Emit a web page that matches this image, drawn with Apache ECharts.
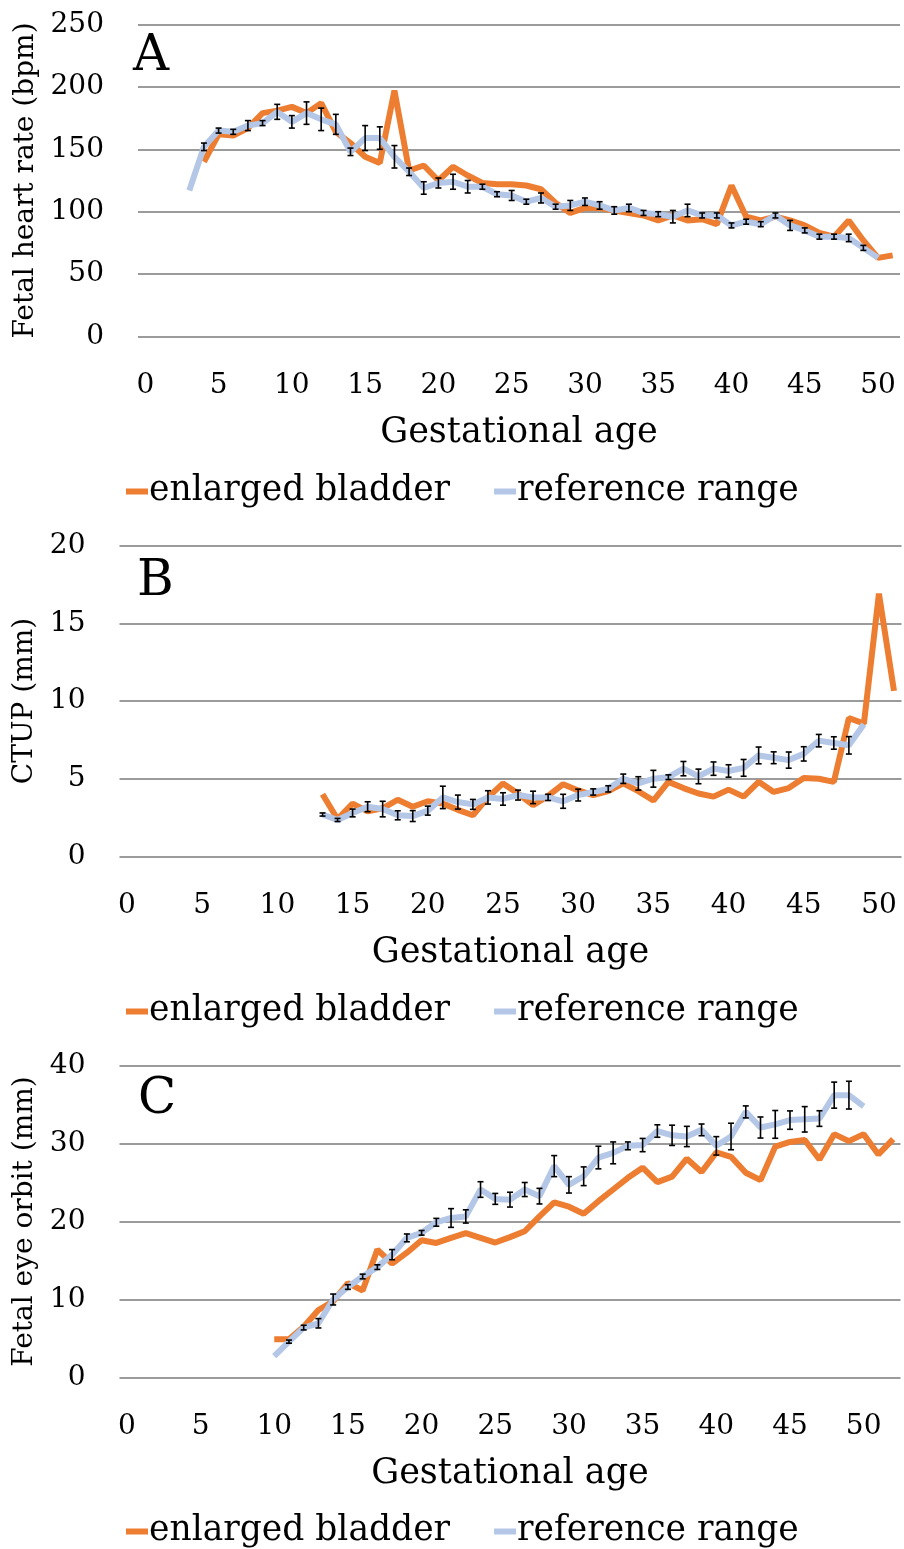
<!DOCTYPE html>
<html>
<head>
<meta charset="utf-8">
<script src="https://cdn.jsdelivr.net/npm/echarts@6/dist/echarts.min.js"></script>
<style>
  html, body { margin: 0; padding: 0; background: #fff; }
  #chart { width: 904px; height: 1549px; }
</style>
</head>
<body>
<div id="chart"></div>
<script>
// gestational age categories (0..51 for A and B, 0..52 for C)
var agesAB = [];
for (var i = 0; i <= 51; i++) agesAB.push(String(i));
var agesC = [];
for (var i = 0; i <= 52; i++) agesC.push(String(i));

// A: fetal heart rate (bpm)
var hrBladderStart = 4;
var hrBladder = [140, 162, 161, 167, 179, 181, 184, 179, 187, 164, 155, 144, 139, 197, 133, 137,
  125, 136, 129, 123, 122, 122, 121, 118, 107, 99, 103, 103, 101, 99, 97, 93, 97, 93, 94, 90,
  121, 96, 93, 96, 93, 89, 83, 80, 93, 77, 63, 65];
var hrRefStart = 3;
var hrRef = [117, 152, 165, 164, 169, 171, 180, 172, 179, 174, 170, 148, 159, 159, 144, 132,
  119, 123, 124, 120, 120, 114, 113, 108, 111, 104, 105, 108, 105, 101, 103, 99, 98, 96, 101,
  97, 97, 89, 92, 90, 97, 89, 85, 80, 80, 79, 71, 63];
var hrRefErr = [0, 3, 2, 2, 4, 2, 6, 5, 9, 9, 8, 3, 10, 9, 9, 3,
  5, 4, 6, 5, 2, 2, 4, 2, 4, 2, 4, 3, 3, 3, 3, 2, 2, 5, 5,
  2, 2, 2, 2, 2, 2, 4, 2, 2, 2, 3, 2, 0];

// B: CTUP (mm)
var ctupBladderStart = 13;
var ctupBladder = [4.0, 2.4, 3.4, 2.9, 3.1, 3.65, 3.2, 3.55, 3.4, 3.0, 2.65, 3.8, 4.7, 4.05, 3.3,
  3.9, 4.65, 4.25, 3.95, 4.2, 4.7, 4.2, 3.6, 4.8, 4.4, 4.05, 3.85, 4.3, 3.85, 4.8, 4.15, 4.4,
  5.05, 5.0, 4.8, 8.9, 8.55, 16.9, 10.65];
var ctupRefStart = 13;
var ctupRef = [2.7, 2.35, 2.8, 3.2, 3.05, 2.65, 2.6, 2.95, 3.8, 3.5, 3.35, 3.8, 3.7, 3.95, 3.8,
  3.8, 3.55, 3.95, 4.15, 4.35, 5.0, 4.7, 5.0, 5.1, 5.65, 5.15, 5.65, 5.5, 5.7, 6.5, 6.35, 6.2,
  6.6, 7.45, 7.3, 7.15, 8.5];
var ctupRefErr = [0.1, 0.1, 0.25, 0.32, 0.5, 0.29, 0.35, 0.29, 0.72, 0.45, 0.32, 0.43, 0.4, 0.32,
  0.4, 0.2, 0.45, 0.38, 0.2, 0.2, 0.3, 0.43, 0.54, 0.15, 0.46, 0.47, 0.43, 0.4, 0.54, 0.54,
  0.38, 0.52, 0.46, 0.4, 0.4, 0.56, 0];

// C: fetal eye orbit (mm)
var orbitBladderStart = 10;
var orbitBladder = [4.9, 4.9, 6.5, 8.65, 9.75, 12.1, 11.15, 16.4, 14.6, 16.0, 17.6, 17.25, 17.9,
  18.5, 17.9, 17.3, 18.0, 18.75, 20.65, 22.45, 21.9, 21.0, 22.6, 24.1, 25.6, 26.9, 25.05, 25.75,
  28.05, 26.35, 28.85, 28.3, 26.25, 25.3, 29.6, 30.2, 30.45, 27.95, 31.2, 30.3, 31.2, 28.6, 30.55];
var orbitRefStart = 10;
var orbitRef = [2.75, 4.6, 6.4, 6.95, 10.0, 11.6, 12.95, 14.15, 15.75, 17.9, 18.55, 19.9, 20.45,
  20.65, 24.1, 22.9, 22.8, 24.1, 23.25, 27.1, 24.7, 25.8, 28.2, 28.8, 29.7, 29.8, 31.6, 31.05,
  30.9, 31.75, 29.7, 30.9, 34.05, 32.05, 32.45, 33.0, 33.1, 33.2, 36.2, 36.2, 34.75];
var orbitRefErr = [0, 0.2, 0.3, 0.6, 0.7, 0.3, 0.3, 0.3, 0.65, 0.5, 0.3, 0.5, 1.2, 0.85, 1.0,
  0.7, 0.95, 0.9, 1.0, 1.35, 1.05, 1.2, 1.45, 1.4, 0.5, 0.85, 0.8, 1.3, 1.3, 0.75, 1.18, 1.7,
  0.77, 1.35, 1.78, 1.18, 1.63, 1.0, 1.67, 1.78, 0];

var FONT = 'DejaVu Serif';
var ORANGE = '#ED7D31';
var BLUE = '#B4C7E7';

function pad(start, vals, n) {
  var out = [];
  for (var i = 0; i < n; i++) {
    var k = i - start;
    out.push(k >= 0 && k < vals.length ? vals[k] : null);
  }
  return out;
}
function errData(start, vals, errs) {
  var out = [];
  vals.forEach(function (v, k) {
    if (errs[k] > 0) out.push([start + k, v - errs[k], v + errs[k]]);
  });
  return out;
}
function renderErr(params, api) {
  var lo = api.coord([api.value(0), api.value(1)]);
  var hi = api.coord([api.value(0), api.value(2)]);
  var w = 3;
  var st = { stroke: '#000', lineWidth: 1.6 };
  return {
    type: 'group',
    children: [
      { type: 'line', shape: { x1: lo[0], y1: lo[1], x2: hi[0], y2: hi[1] }, style: st },
      { type: 'line', shape: { x1: lo[0] - w, y1: lo[1], x2: lo[0] + w, y2: lo[1] }, style: st },
      { type: 'line', shape: { x1: hi[0] - w, y1: hi[1], x2: hi[0] + w, y2: hi[1] }, style: st }
    ]
  };
}

var panels = [
  { letter: 'A', letterPos: [128, 27], yName: 'Fetal heart rate (bpm)', max: 250, step: 50, ages: agesAB,
    grid: { left: 138, top: 24.5, width: 762, height: 312 }, yGap: 94, legendTop: 469,
    bl: [hrBladderStart, hrBladder], rf: [hrRefStart, hrRef, hrRefErr] },
  { letter: 'B', letterPos: [132, 552], yName: 'CTUP (mm)', max: 20, step: 5, ages: agesAB,
    grid: { left: 119.5, top: 545.5, width: 782, height: 311 }, yGap: 79, legendTop: 989,
    bl: [ctupBladderStart, ctupBladder], rf: [ctupRefStart, ctupRef, ctupRefErr] },
  { letter: 'C', letterPos: [133, 1070], yName: 'Fetal eye orbit (mm)', max: 40, step: 10, ages: agesC,
    grid: { left: 119.5, top: 1065.5, width: 781, height: 312 }, yGap: 79, legendTop: 1509,
    bl: [orbitBladderStart, orbitBladder], rf: [orbitRefStart, orbitRef, orbitRefErr] }
];

var option = {
  animation: false,
  backgroundColor: '#fff',
  title: [], grid: [], xAxis: [], yAxis: [], legend: [], series: []
};

panels.forEach(function (p, i) {
  var n = p.ages.length;
  option.grid.push(p.grid);
  option.title.push({
    text: p.letter, left: p.letterPos[0], top: p.letterPos[1],
    textStyle: { fontFamily: FONT, fontSize: 50, fontWeight: 'normal', color: '#000' }
  });
  option.xAxis.push({
    type: 'category', gridIndex: i, data: p.ages, boundaryGap: true,
    name: 'Gestational age', nameLocation: 'middle', nameGap: 79,
    nameTextStyle: { fontFamily: FONT, fontSize: 35, color: '#000' },
    axisLine: { show: false }, axisTick: { show: false },
    axisLabel: { interval: 4, margin: 35, fontFamily: FONT, fontSize: 28, color: '#000' }
  });
  option.yAxis.push({
    type: 'value', gridIndex: i, min: 0, max: p.max, interval: p.step,
    name: p.yName, nameLocation: 'middle', nameRotate: 90, nameGap: p.yGap,
    nameTextStyle: { fontFamily: FONT, fontSize: 28, color: '#000' },
    axisLine: { show: false }, axisTick: { show: false },
    axisLabel: { margin: 34, fontFamily: FONT, fontSize: 28, color: '#000' },
    splitLine: { lineStyle: { color: '#7a7a7a', width: 1.5 } }
  });
  option.legend.push({
    data: ['enlarged bladder', 'reference range'],
    left: 121, top: p.legendTop, icon: 'rect', itemWidth: 22, itemHeight: 6, itemGap: 44,
    textStyle: { fontFamily: FONT, fontSize: 34.5, color: '#000', padding: [0, 0, 0, -4] }
  });
  option.series.push({
    name: 'enlarged bladder', type: 'line', xAxisIndex: i, yAxisIndex: i,
    data: pad(p.bl[0], p.bl[1], n), showSymbol: false, symbol: 'none',
    color: ORANGE, lineStyle: { width: 6, color: ORANGE }, z: 2
  });
  option.series.push({
    name: 'reference range', type: 'line', xAxisIndex: i, yAxisIndex: i,
    data: pad(p.rf[0], p.rf[1], n), showSymbol: false, symbol: 'none',
    color: BLUE, lineStyle: { width: 6, color: BLUE }, z: 3
  });
  option.series.push({
    type: 'custom', xAxisIndex: i, yAxisIndex: i,
    data: errData(p.rf[0], p.rf[1], p.rf[2]),
    encode: { x: 0, y: [1, 2] }, renderItem: renderErr, z: 4, silent: true
  });
});

var chart = echarts.init(document.getElementById('chart'), null, { renderer: 'canvas' });
chart.setOption(option);
</script>
</body>
</html>
